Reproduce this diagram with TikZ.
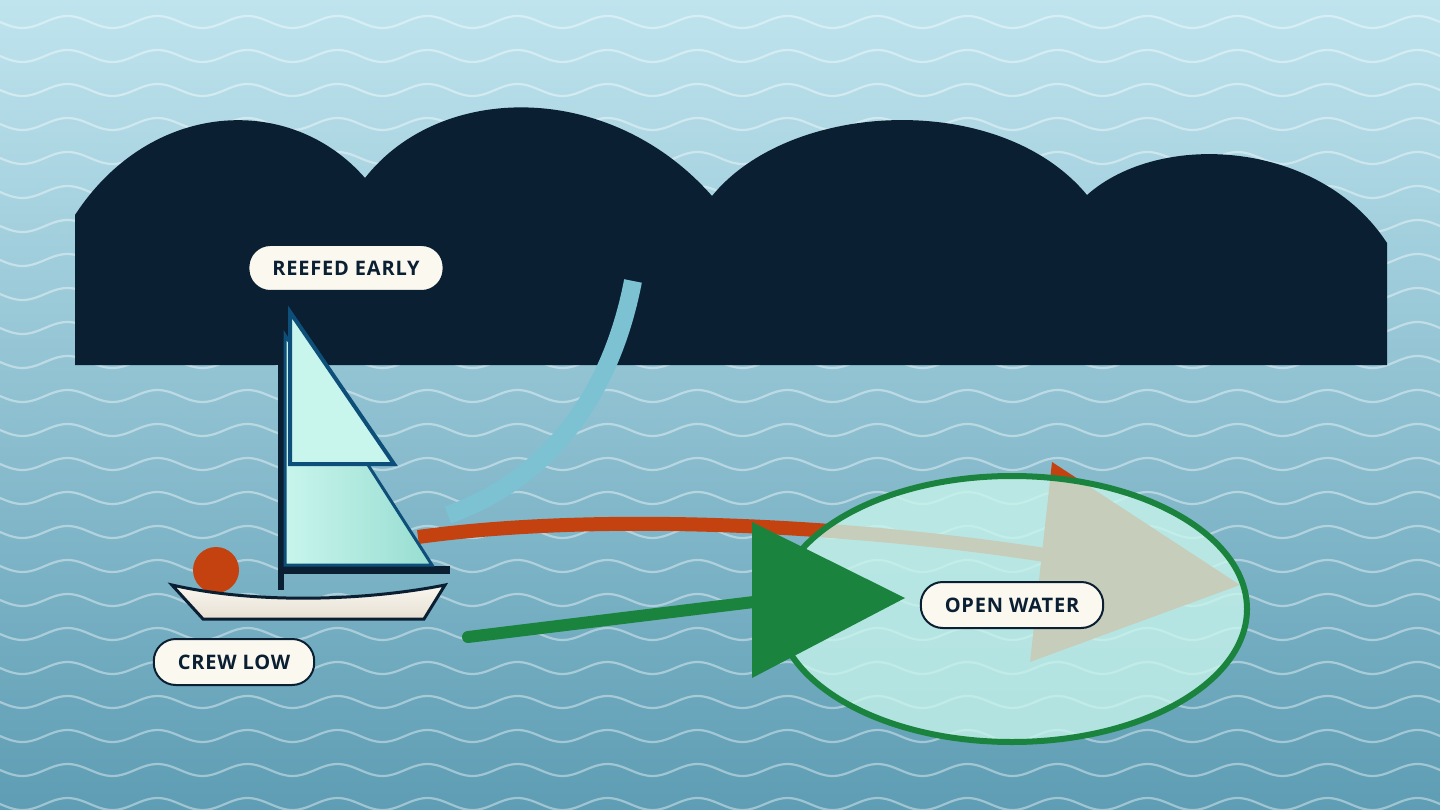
\documentclass[tikz,border=0pt]{standalone}
\usepackage{fontspec}
\setmainfont{Open Sans}
\begin{document}
\begin{tikzpicture}[x=1pt,y=-1pt,
  lbl/.style={draw=ink,line width=2pt,fill=cream,rounded corners=22pt,minimum height=46pt,inner xsep=24pt,font=\fontsize{20}{22}\selectfont\addfontfeatures{LetterSpace=4}\bfseries\color{ink}},
  wave/.style={white,opacity=0.4,line width=2.2pt}]
\definecolor{ink}{HTML}{0B1F33}
\definecolor{cream}{HTML}{FBF8F0}
\definecolor{hull2}{HTML}{E6DFD3}
\definecolor{seatop}{HTML}{BFE4EE}
\definecolor{seabot}{HTML}{5E9DB4}
\definecolor{rust}{HTML}{C4420F}
\definecolor{grn}{HTML}{1A843E}
\definecolor{sky}{HTML}{7CC2D3}
\definecolor{mint}{HTML}{C8F5EC}
\definecolor{mint2}{HTML}{98DDD1}
\definecolor{sailedge}{HTML}{0E4F7A}
\useasboundingbox (0,0) rectangle (1440,810);
\shade[top color=seatop,bottom color=seabot] (0,0) rectangle (1440,810);
\foreach \r in {0,...,23}{
  \draw[wave] plot[domain=-20:1460,samples=300,smooth] (\x,{22+34*\r+6*sin(\x*4)});
}
% hills
\fill[ink] (75,365) -- (75,215) .. controls (150,100) and (290,92) .. (365,178)
  .. controls (440,82) and (610,80) .. (712,196)
  .. controls (790,100) and (1000,90) .. (1087,195)
  .. controls (1160,130) and (1320,140) .. (1387,243) -- (1387,365) -- cycle;
% light blue arc
\draw[sky,line width=18pt] (633,281) .. controls (610,400) and (545,480) .. (448,515);
% red arrow
\draw[rust,line width=14pt] (418,537) .. controls (600,512) and (850,525) .. (1045,555);
\fill[rust] (1052,462) -- (1240,585) -- (1030,662) -- cycle;
% ellipse
\fill[mint,opacity=0.78] (1012,609) ellipse [x radius=235,y radius=133];
\draw[grn,line width=6pt] (1012,609) ellipse [x radius=235,y radius=133];
% green arrow
\draw[grn,line width=12pt,line cap=round] (468,637) -- (770,600);
\fill[grn] (752,522) -- (905,598) -- (752,678) -- cycle;
% boat
\fill[rust] (216,570) circle (23);
\shade[top color=cream,bottom color=hull2,draw=ink,line width=3pt] (172,585) .. controls (260,605) and (370,600) .. (445,585) -- (424,619) -- (203,619) -- cycle;
\draw[ink,line width=6pt] (281,330) -- (281,590);
\draw[ink,line width=8pt] (281,570) -- (450,570);
\shade[left color=mint,right color=mint2,draw=sailedge,line width=3pt] (285,335) -- (432,565) -- (285,565) -- cycle;
\draw[sailedge,line width=4pt,fill=mint] (290,312) -- (394,464) -- (290,464) -- cycle;
% labels
\node[lbl] (reef) at (346,268) {REEFED EARLY};
\node[lbl] (crew) at (234,662) {CREW LOW};
\node[lbl] (open) at (1012,605) {OPEN WATER};
\end{tikzpicture}
\end{document}
